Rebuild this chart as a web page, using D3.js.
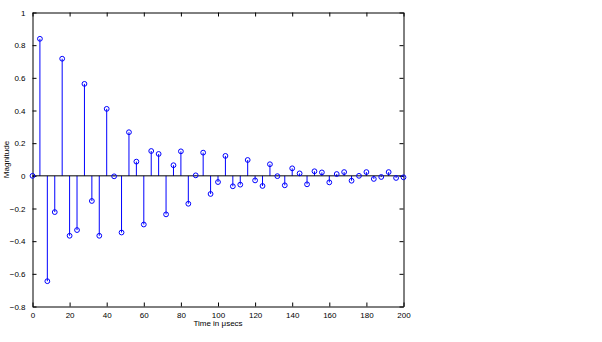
<!DOCTYPE html>
<html lang="en">
	<head>
		<meta charset="UTF-8" />
		<script src="https://d3js.org/d3.v7.min.js"></script>
		<style>
			body { margin: 0; background: #fff; }
			text { font-family: "Liberation Sans", Arial, sans-serif; }
		</style>
	</head>
	<body>
		<script>
			var w = 602;
			var h = 342;

			// time samples (µsecs) and magnitudes
			var times = [0, 4, 8, 12, 16, 20, 24, 28, 32, 36, 40, 44, 48, 52, 56, 60, 64, 68, 72, 76,
				80, 84, 88, 92, 96, 100, 104, 108, 112, 116, 120, 124, 128, 132, 136, 140, 144, 148,
				152, 156, 160, 164, 168, 172, 176, 180, 184, 188, 192, 196, 200];
			var magnitude = [0, 0.839, -0.645, -0.222, 0.717, -0.367, -0.332, 0.563, -0.154, -0.367,
				0.41, -0.003, -0.347, 0.267, 0.087, -0.298, 0.152, 0.134, -0.236, 0.065,
				0.15, -0.171, 0.003, 0.142, -0.111, -0.038, 0.122, -0.064, -0.054, 0.097,
				-0.028, -0.062, 0.071, -0.002, -0.058, 0.046, 0.015, -0.052, 0.028, 0.021,
				-0.04, 0.011, 0.023, -0.03, 0, 0.023, -0.019, -0.007, 0.023, -0.013, -0.009];
			var xTicks = [0, 20, 40, 60, 80, 100, 120, 140, 160, 180, 200];
			var yTicks = [-0.8, -0.6, -0.4, -0.2, 0, 0.2, 0.4, 0.6, 0.8, 1];

			var padL = 32.5, padR = 403.5, padT = 12.5, padB = 306.5;

			var xScale = d3.scaleLinear().domain([0, 200]).range([padL, padR]);
			var yScale = d3.scaleLinear().domain([-0.8, 1]).range([padB, padT]);

			var svg = d3.select("body").append("svg")
				.attr("width", w)
				.attr("height", h);

			var fmt = function (d) {
				return d < 0 ? "\u2212" + Math.abs(d) : String(d);
			};

			// box axes with inward ticks (all four sides)
			var tl = 4;
			svg.append("g")
				.attr("transform", "translate(0," + padB + ")")
				.call(d3.axisBottom(xScale).tickValues(xTicks).tickSizeInner(-tl).tickSizeOuter(0).tickPadding(6).tickFormat(fmt));
			svg.append("g")
				.attr("transform", "translate(0," + padT + ")")
				.call(d3.axisTop(xScale).tickValues(xTicks).tickSizeInner(-tl).tickSizeOuter(0).tickFormat(""));
			svg.append("g")
				.attr("transform", "translate(" + padL + ",0)")
				.call(d3.axisLeft(yScale).tickValues(yTicks).tickSizeInner(-tl).tickSizeOuter(0).tickPadding(7).tickFormat(fmt));
			svg.append("g")
				.attr("transform", "translate(" + padR + ",0)")
				.call(d3.axisRight(yScale).tickValues(yTicks).tickSizeInner(-tl).tickSizeOuter(0).tickFormat(""));

			svg.selectAll(".domain").attr("stroke", "#000").attr("stroke-width", 1);
			svg.selectAll(".tick line").attr("stroke", "#000");
			svg.selectAll(".tick text")
				.attr("font-size", "8px")
				.attr("font-family", "Liberation Sans, Arial, sans-serif")
				.attr("fill", "#000");

			// stems
			svg.selectAll("line.stem")
				.data(times)
				.enter()
				.append("line")
				.attr("class", "stem")
				.attr("x1", function (d) { return xScale(d); })
				.attr("x2", function (d) { return xScale(d); })
				.attr("y1", yScale(0))
				.attr("y2", function (d, i) { return yScale(magnitude[i]); })
				.attr("stroke", "#0000ff")
				.attr("stroke-width", 1);

			// baseline
			svg.append("line")
				.attr("x1", padL)
				.attr("x2", padR)
				.attr("y1", yScale(0))
				.attr("y2", yScale(0))
				.attr("stroke", "#000")
				.attr("stroke-width", 1);

			// markers
			svg.selectAll("circle")
				.data(times)
				.enter()
				.append("circle")
				.attr("cx", function (d) { return xScale(d); })
				.attr("cy", function (d, i) { return yScale(magnitude[i]); })
				.attr("r", 2.4)
				.attr("fill", "none")
				.attr("stroke", "#0000ff")
				.attr("stroke-width", 1);

			svg.append("text")
				.attr("x", (padL + padR) / 2)
				.attr("y", 326)
				.attr("text-anchor", "middle")
				.attr("font-size", "8px")
				.text("Time in \u03bcsecs");

			svg.append("text")
				.attr("transform", "translate(9," + (padT + padB) / 2 + ") rotate(-90)")
				.attr("text-anchor", "middle")
				.attr("font-size", "8px")
				.text("Magnitude");
		</script>
	</body>
</html>
